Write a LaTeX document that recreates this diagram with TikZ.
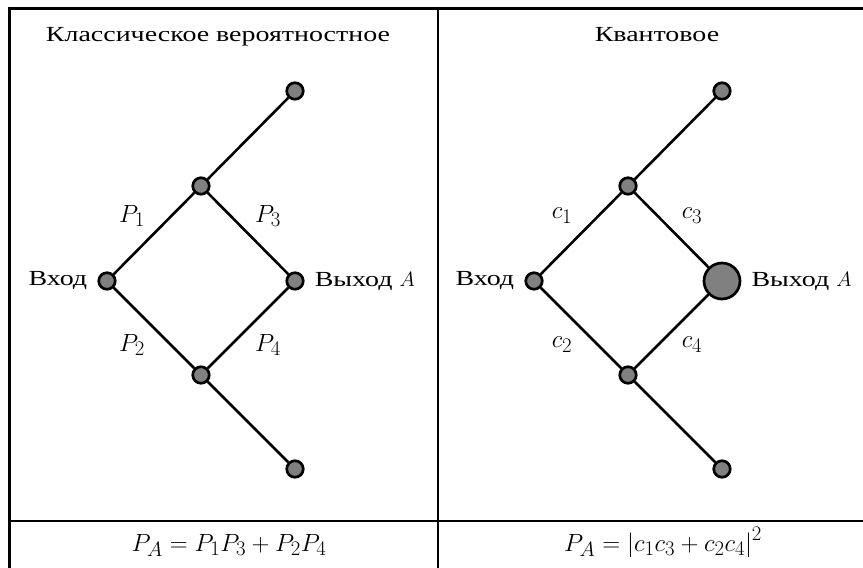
\documentclass[tikz,border=0pt]{standalone}
\usepackage{fontspec}
\setmainfont{Liberation Serif}[FakeStretch=1.3]
\begin{document}
\begin{tikzpicture}[x=1pt,y=-1pt,
  every node/.style={font=\fontsize{21.5}{26}\selectfont},
  dot/.style={circle,draw=black,line width=2.7pt,fill=black!50,inner sep=0pt,minimum size=16.5pt},
  bigdot/.style={dot,minimum size=36pt},
  edge/.style={line width=2.6pt,black},
  side/.style={inner sep=0pt},
  lbl/.style={font=\fontsize{27.5}{32}\selectfont},
  formula/.style={font=\fontsize{28.5}{34}\selectfont,anchor=base}]
\useasboundingbox (0,0) rectangle (863,568);
% frame
\draw[line width=3pt] (9.5,570) -- (9.5,8.5) -- (865,8.5);
\draw[line width=2pt] (438,8.5) -- (438,570);
\draw[line width=2pt] (9.5,521) -- (865,521);
% titles
\node[anchor=base] (t1) at (218,41) {Классическое вероятностное};
\node[anchor=base] (t2) at (657,41) {Квантовое};
% left graph
\node[dot] (lin) at (107,281) {};
\node[dot] (lu) at (201,186) {};
\node[dot] (ld) at (201,375) {};
\node[dot] (lout) at (295,281) {};
\node[dot] (lt) at (295,91) {};
\node[dot] (lb) at (295,469) {};
\draw[edge] (lin) -- (lu) (lin) -- (ld) (lu) -- (lout) (ld) -- (lout) (lu) -- (lt) (ld) -- (lb);
\node[side,anchor=east] (lint) at ([xshift=-10pt]lin.west) {Вход};
\node[side,anchor=west] (loutt) at ([xshift=10pt]lout.east) {Выход $A$};
\node[lbl] (p1) at (132,216) {$P_1$};
\node[lbl] (p3) at (268,216) {$P_3$};
\node[lbl] (p2) at (132,345) {$P_2$};
\node[lbl] (p4) at (268,345) {$P_4$};
% right graph
\node[dot] (rin) at (534,281) {};
\node[dot] (ru) at (628,186) {};
\node[dot] (rd) at (628,375) {};
\node[bigdot] (rout) at (722,281) {};
\node[dot] (rt) at (722,91) {};
\node[dot] (rb) at (722,469) {};
\draw[edge] (rin) -- (ru) (rin) -- (rd) (ru) -- (rout) (rd) -- (rout) (ru) -- (rt) (rd) -- (rb);
\node[side,anchor=east] (rint) at ([xshift=-10pt]rin.west) {Вход};
\node[side,anchor=west] (routt) at ([xshift=10pt]rout.east) {Выход $A$};
\node[lbl] (c1) at (562,216) {$c_1$};
\node[lbl] (c3) at (692,216) {$c_3$};
\node[lbl] (c2) at (562,345) {$c_2$};
\node[lbl] (c4) at (692,345) {$c_4$};
% formulas
\node[formula] (f1) at (229,551) {$P_A = P_1P_3 + P_2P_4$};
\node[formula] (f2) at (663,551) {$P_A = \left|c_1c_3 + c_2c_4\right|^2$};
\end{tikzpicture}
\end{document}
